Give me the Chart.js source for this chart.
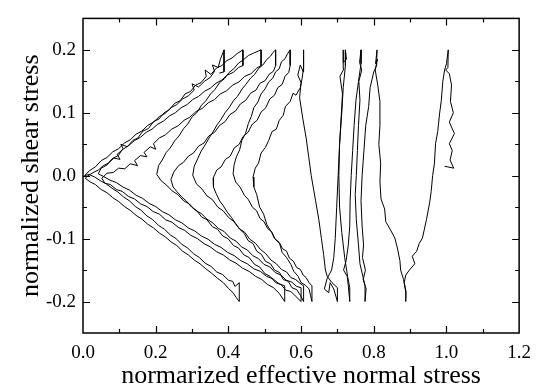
<!DOCTYPE html>
<html>
<head>
<meta charset="utf-8">
<script src="https://cdn.jsdelivr.net/npm/chart.js@4.4.1/dist/chart.umd.min.js"></script>
<style>
  html, body { margin: 0; padding: 0; background: #fff; }
  #wrap { width: 540px; height: 389px; }
</style>
</head>
<body>
<div id="wrap"><canvas id="myChart" width="540" height="389"></canvas></div>
<script>
// tick labels of the axes
const xTicks = [0, 0.2, 0.4, 0.6, 0.8, 1.0, 1.2];
const yTicks = [-0.2, -0.1, 0, 0.1, 0.2];

// stress path: [normalized effective normal stress, normalized shear stress]
const stressPath = [
  // first loading
  [0.995,0.015],[1.02,0.012],[1.01,0.025],[1.016,0.04],[1.008,0.051],[1.022,0.067],[1.008,0.085],[1.019,0.10],
  [1.011,0.118],[1.014,0.144],[1.008,0.162],[0.998,0.168],[1.004,0.172],[1.005,0.2],
  // cycle 1
  [1.0,0.178],[0.995,0.168],[0.99,0.15],[0.986,0.12],[0.981,0.098],[0.976,0.07],[0.97,0.051],[0.967,0.02],
  [0.962,0.0],[0.958,-0.025],[0.954,-0.042],[0.945,-0.07],[0.934,-0.099],[0.925,-0.108],[0.918,-0.12],
  [0.906,-0.128],[0.913,-0.14],[0.898,-0.15],[0.888,-0.158],[0.884,-0.17],[0.889,-0.185],[0.888,-0.2],
  [0.888,-0.185],[0.882,-0.165],[0.874,-0.15],[0.872,-0.135],[0.865,-0.115],[0.858,-0.099],[0.845,-0.085],
  [0.833,-0.073],[0.83,-0.053],[0.82,-0.037],[0.817,-0.01],[0.819,0.02],[0.814,0.05],[0.817,0.08],
  [0.817,0.118],[0.811,0.144],[0.804,0.168],[0.81,0.185],[0.805,0.178],[0.809,0.2],
  // cycle 2
  [0.808,0.175],[0.8,0.165],[0.79,0.14],[0.786,0.11],[0.778,0.08],[0.773,0.04],[0.768,0.0],[0.765,-0.04],
  [0.768,-0.08],[0.772,-0.11],[0.769,-0.13],[0.777,-0.15],[0.771,-0.165],[0.779,-0.18],[0.776,-0.2],
  [0.776,-0.175],[0.77,-0.16],[0.762,-0.14],[0.758,-0.11],[0.752,-0.07],[0.749,-0.03],[0.752,0.0],
  [0.755,0.04],[0.758,0.08],[0.762,0.12],[0.759,0.15],[0.767,0.168],[0.761,0.18],[0.765,0.2],
  // cycle 3
  [0.765,0.178],[0.758,0.15],[0.751,0.12],[0.746,0.08],[0.742,0.04],[0.738,0.0],[0.735,-0.04],[0.734,-0.08],
  [0.73,-0.11],[0.724,-0.135],[0.717,-0.15],[0.727,-0.16],[0.73,-0.175],[0.734,-0.2],
  [0.734,-0.178],[0.728,-0.16],[0.72,-0.13],[0.712,-0.09],[0.706,-0.05],[0.704,0.0],[0.706,0.05],
  [0.71,0.09],[0.714,0.13],[0.707,0.158],[0.718,0.17],[0.716,0.2],[0.716,0.18],[0.725,0.185],[0.722,0.2],
  // cycle 4
  [0.722,0.175],[0.716,0.14],[0.712,0.1],[0.706,0.05],[0.702,0.0],[0.698,-0.05],[0.694,-0.1],[0.69,-0.13],
  [0.684,-0.15],[0.672,-0.163],[0.664,-0.18],[0.676,-0.186],[0.68,-0.17],[0.69,-0.18],[0.7,-0.2],
  [0.7,-0.178],[0.685,-0.17],[0.672,-0.16],[0.667,-0.15],[0.662,-0.125],[0.656,-0.1],[0.649,-0.07],
  [0.64,-0.04],[0.628,0.0],[0.621,0.03],[0.614,0.06],[0.605,0.09],[0.596,0.124],[0.6,0.148],[0.591,0.16],
  [0.598,0.176],[0.606,0.165],[0.607,0.2],
  // cycle 5
  [0.607,0.172],[0.603,0.155],[0.598,0.14],[0.586,0.128],[0.578,0.131],[0.57,0.118],[0.557,0.11],[0.551,0.096],
  [0.54,0.088],[0.532,0.074],[0.52,0.07],[0.511,0.056],[0.502,0.045],[0.49,0.036],[0.483,0.02],[0.474,0.012],
  [0.468,-0.002],[0.47,-0.018],[0.478,-0.03],[0.486,-0.05],[0.497,-0.061],[0.506,-0.078],[0.519,-0.09],
  [0.527,-0.1],[0.541,-0.108],[0.548,-0.122],[0.56,-0.13],[0.572,-0.141],[0.58,-0.152],[0.592,-0.16],
  [0.6,-0.17],[0.612,-0.174],[0.622,-0.18],[0.626,-0.19],[0.63,-0.2],
  [0.63,-0.175],[0.622,-0.17],[0.614,-0.162],[0.606,-0.158],[0.598,-0.149],[0.588,-0.146],[0.579,-0.136],
  [0.568,-0.131],[0.56,-0.12],[0.549,-0.116],[0.54,-0.106],[0.528,-0.1],[0.519,-0.089],[0.508,-0.084],
  [0.498,-0.073],[0.487,-0.068],[0.478,-0.056],[0.466,-0.05],[0.455,-0.038],[0.444,-0.031],[0.432,-0.018],
  [0.42,-0.01],[0.413,0.003],[0.416,0.018],[0.422,0.03],[0.431,0.041],[0.437,0.056],[0.447,0.067],
  [0.455,0.083],[0.463,0.094],[0.47,0.108],[0.481,0.117],[0.49,0.13],[0.501,0.138],[0.511,0.149],
  [0.522,0.155],[0.53,0.165],[0.54,0.17],[0.546,0.181],[0.556,0.186],[0.562,0.193],[0.57,0.2],
  // cycle 6
  [0.57,0.175],[0.566,0.164],[0.556,0.158],[0.548,0.145],[0.536,0.14],[0.527,0.128],[0.514,0.122],
  [0.503,0.108],[0.49,0.101],[0.479,0.088],[0.466,0.082],[0.454,0.069],[0.44,0.062],[0.43,0.05],
  [0.416,0.044],[0.405,0.031],[0.392,0.026],[0.38,0.014],[0.368,0.009],[0.358,-0.004],[0.359,-0.018],
  [0.366,-0.028],[0.376,-0.04],[0.385,-0.047],[0.397,-0.058],[0.408,-0.066],[0.42,-0.076],[0.431,-0.085],
  [0.444,-0.092],[0.454,-0.103],[0.468,-0.108],[0.478,-0.12],[0.491,-0.125],[0.502,-0.136],[0.516,-0.14],
  [0.527,-0.15],[0.541,-0.154],[0.551,-0.165],[0.565,-0.168],[0.575,-0.178],[0.588,-0.181],[0.598,-0.19],
  [0.607,-0.2],
  [0.607,-0.175],[0.597,-0.171],[0.585,-0.165],[0.572,-0.162],[0.56,-0.153],[0.546,-0.149],[0.532,-0.14],
  [0.517,-0.134],[0.503,-0.124],[0.488,-0.117],[0.474,-0.107],[0.459,-0.101],[0.445,-0.09],[0.43,-0.084],
  [0.415,-0.073],[0.4,-0.066],[0.386,-0.056],[0.371,-0.05],[0.356,-0.038],[0.341,-0.032],[0.327,-0.021],
  [0.312,-0.013],[0.302,0.001],[0.306,0.015],[0.314,0.025],[0.325,0.039],[0.334,0.047],[0.347,0.06],
  [0.356,0.068],[0.369,0.081],[0.378,0.088],[0.392,0.101],[0.402,0.108],[0.415,0.12],[0.425,0.126],
  [0.438,0.138],[0.448,0.145],[0.461,0.155],[0.472,0.161],[0.484,0.171],[0.495,0.176],[0.506,0.185],
  [0.516,0.19],[0.523,0.196],[0.53,0.2],
  // cycle 7
  [0.53,0.175],[0.524,0.166],[0.512,0.161],[0.501,0.151],[0.487,0.147],[0.476,0.136],[0.461,0.131],
  [0.448,0.12],[0.433,0.114],[0.42,0.103],[0.404,0.097],[0.391,0.086],[0.376,0.08],[0.362,0.069],
  [0.346,0.063],[0.333,0.052],[0.318,0.047],[0.304,0.036],[0.29,0.031],[0.276,0.021],[0.263,0.016],
  [0.25,0.006],[0.242,-0.006],[0.248,-0.018],[0.258,-0.025],[0.272,-0.034],[0.284,-0.04],[0.299,-0.05],
  [0.312,-0.055],[0.327,-0.066],[0.341,-0.07],[0.356,-0.081],[0.37,-0.085],[0.385,-0.096],[0.399,-0.1],
  [0.414,-0.111],[0.428,-0.115],[0.443,-0.126],[0.457,-0.13],[0.472,-0.141],[0.486,-0.145],[0.501,-0.156],
  [0.515,-0.16],[0.53,-0.17],[0.545,-0.173],[0.558,-0.182],[0.572,-0.184],[0.584,-0.191],[0.6,-0.2],
  [0.6,-0.178],[0.588,-0.176],[0.574,-0.169],[0.559,-0.166],[0.545,-0.158],[0.529,-0.154],[0.514,-0.145],
  [0.498,-0.141],[0.483,-0.132],[0.467,-0.127],[0.452,-0.118],[0.436,-0.113],[0.421,-0.104],[0.405,-0.099],
  [0.389,-0.089],[0.373,-0.084],[0.357,-0.075],[0.341,-0.069],[0.325,-0.06],[0.309,-0.055],[0.293,-0.045],
  [0.277,-0.04],[0.261,-0.03],[0.245,-0.024],[0.23,-0.015],[0.215,-0.008],[0.203,0.002],[0.208,0.016],
  [0.218,0.025],[0.229,0.037],[0.24,0.044],[0.253,0.056],[0.264,0.063],[0.277,0.075],[0.288,0.082],
  [0.301,0.094],[0.313,0.1],[0.326,0.112],[0.338,0.119],[0.351,0.13],[0.363,0.137],[0.376,0.148],
  [0.389,0.154],[0.402,0.164],[0.415,0.17],[0.428,0.179],[0.441,0.184],[0.455,0.191],[0.47,0.195],
  [0.49,0.2],
  // cycle 8
  [0.49,0.175],[0.478,0.171],[0.462,0.162],[0.445,0.158],[0.429,0.149],[0.412,0.144],[0.395,0.135],
  [0.378,0.13],[0.362,0.121],[0.345,0.116],[0.328,0.107],[0.311,0.102],[0.294,0.093],[0.278,0.088],
  [0.261,0.079],[0.244,0.074],[0.227,0.065],[0.21,0.06],[0.194,0.051],[0.2,0.042],[0.185,0.046],
  [0.168,0.037],[0.176,0.03],[0.158,0.032],[0.142,0.024],[0.15,0.016],[0.13,0.019],[0.115,0.011],
  [0.098,0.012],[0.083,0.005],[0.066,0.004],[0.052,-0.004],[0.06,-0.012],[0.075,-0.014],[0.092,-0.022],
  [0.108,-0.025],[0.125,-0.033],[0.142,-0.037],[0.159,-0.045],[0.176,-0.049],[0.193,-0.057],[0.21,-0.061],
  [0.227,-0.07],[0.245,-0.074],[0.262,-0.082],[0.28,-0.087],[0.297,-0.095],[0.315,-0.1],[0.333,-0.108],
  [0.35,-0.113],[0.368,-0.121],[0.386,-0.126],[0.404,-0.134],[0.421,-0.139],[0.439,-0.147],[0.457,-0.152],
  [0.475,-0.16],[0.492,-0.165],[0.508,-0.173],[0.524,-0.178],[0.54,-0.187],[0.555,-0.2],
  [0.555,-0.175],[0.54,-0.172],[0.523,-0.164],[0.505,-0.16],[0.488,-0.152],[0.47,-0.148],[0.452,-0.14],
  [0.434,-0.135],[0.416,-0.127],[0.398,-0.122],[0.38,-0.114],[0.362,-0.109],[0.344,-0.101],[0.326,-0.096],
  [0.308,-0.088],[0.29,-0.083],[0.272,-0.075],[0.254,-0.07],[0.236,-0.062],[0.218,-0.057],[0.2,-0.049],
  [0.182,-0.044],[0.164,-0.036],[0.146,-0.031],[0.128,-0.023],[0.11,-0.018],[0.092,-0.011],[0.074,-0.007],
  [0.056,-0.001],[0.042,0.003],[0.05,0.012],[0.066,0.017],[0.08,0.027],[0.097,0.032],[0.11,0.043],
  [0.104,0.05],[0.122,0.046],[0.137,0.056],[0.151,0.06],[0.165,0.071],[0.18,0.075],[0.194,0.086],
  [0.209,0.09],[0.223,0.1],[0.238,0.105],[0.252,0.115],[0.267,0.119],[0.281,0.13],[0.296,0.134],
  [0.31,0.144],[0.325,0.148],[0.339,0.158],[0.336,0.168],[0.352,0.161],[0.367,0.171],[0.382,0.175],
  [0.396,0.183],[0.41,0.187],[0.424,0.194],[0.44,0.2],
  // cycle 9
  [0.44,0.175],[0.428,0.172],[0.413,0.164],[0.397,0.16],[0.382,0.152],[0.366,0.147],[0.35,0.139],
  [0.334,0.134],[0.318,0.126],[0.302,0.121],[0.286,0.113],[0.27,0.108],[0.254,0.1],[0.238,0.095],
  [0.222,0.087],[0.206,0.082],[0.19,0.074],[0.174,0.069],[0.158,0.061],[0.142,0.056],[0.126,0.048],
  [0.11,0.042],[0.094,0.034],[0.102,0.026],[0.085,0.028],[0.07,0.02],[0.056,0.016],[0.042,0.009],
  [0.028,0.005],[0.014,0.0],[0.006,-0.004],[0.02,-0.01],[0.034,-0.014],[0.05,-0.022],[0.066,-0.027],
  [0.082,-0.035],[0.098,-0.041],[0.114,-0.049],[0.13,-0.055],[0.146,-0.063],[0.162,-0.069],[0.178,-0.077],
  [0.194,-0.083],[0.21,-0.091],[0.226,-0.097],[0.242,-0.105],[0.258,-0.111],[0.274,-0.12],[0.29,-0.126],
  [0.306,-0.134],[0.322,-0.14],[0.338,-0.148],[0.354,-0.155],[0.37,-0.163],[0.386,-0.17],[0.4,-0.179],
  [0.413,-0.186],[0.422,-0.194],[0.43,-0.2],
  [0.43,-0.17],[0.418,-0.176],[0.412,-0.168],[0.4,-0.166],[0.384,-0.157],[0.368,-0.153],[0.352,-0.144],
  [0.336,-0.139],[0.32,-0.13],[0.304,-0.124],[0.288,-0.115],[0.272,-0.109],[0.256,-0.1],[0.24,-0.094],
  [0.224,-0.085],[0.208,-0.079],[0.192,-0.07],[0.176,-0.064],[0.16,-0.055],[0.144,-0.049],[0.128,-0.04],
  [0.112,-0.034],[0.096,-0.026],[0.08,-0.02],[0.064,-0.013],[0.048,-0.008],[0.032,-0.002],[0.016,0.002],
  [0.004,0.0],[0.018,0.008],[0.034,0.014],[0.05,0.024],[0.066,0.029],[0.082,0.038],[0.098,0.043],
  [0.114,0.052],[0.13,0.057],[0.146,0.066],[0.162,0.071],[0.178,0.08],[0.194,0.085],[0.21,0.094],
  [0.226,0.099],[0.242,0.108],[0.258,0.113],[0.274,0.122],[0.29,0.127],[0.306,0.136],[0.3,0.146],
  [0.318,0.141],[0.334,0.15],[0.35,0.156],[0.362,0.166],[0.356,0.176],[0.372,0.172],[0.378,0.185],
  [0.388,0.2],[0.388,0.165],[0.375,0.163]
];

// frame with inward ticks on all four sides
const frameTicks = {
  id: 'frameTicks',
  afterDraw(chart) {
    const { ctx, chartArea: a, scales: { x, y } } = chart;
    ctx.save();
    ctx.strokeStyle = '#000';
    ctx.lineWidth = 1.5;
    ctx.strokeRect(a.left, a.top, a.right - a.left, a.bottom - a.top);
    ctx.lineWidth = 1.2;
    ctx.beginPath();
    for (let i = 1; i < 12; i++) {
      const px = Math.round(x.getPixelForValue(i / 10)) + 0.5;
      const len = i % 2 === 0 ? 7 : 4;
      ctx.moveTo(px, a.bottom); ctx.lineTo(px, a.bottom - len);
      ctx.moveTo(px, a.top); ctx.lineTo(px, a.top + len);
    }
    for (let i = -4; i <= 4; i++) {
      const py = Math.round(y.getPixelForValue(i * 0.05)) + 0.5;
      const len = i % 2 === 0 ? 7 : 4;
      ctx.moveTo(a.left, py); ctx.lineTo(a.left + len, py);
      ctx.moveTo(a.right, py); ctx.lineTo(a.right - len, py);
    }
    ctx.stroke();
    ctx.restore();
  }
};

const serif = 'Liberation Serif';

new Chart(document.getElementById('myChart'), {
  type: 'scatter',
  data: {
    datasets: [{
      data: stressPath.map(([p, q]) => ({ x: p, y: q })),
      showLine: true,
      borderColor: '#000',
      borderWidth: 1,
      pointRadius: 0,
      tension: 0
    }]
  },
  options: {
    responsive: false,
    animation: false,
    layout: { padding: { top: 12, right: 18, left: 0, bottom: 0 } },
    plugins: { legend: { display: false }, tooltip: { enabled: false } },
    scales: {
      x: {
        type: 'linear', min: 0, max: 1.2,
        afterBuildTicks: s => { s.ticks = xTicks.map(v => ({ value: v })); },
        afterFit: s => { s.height = 56; },
        grid: { display: false, drawTicks: false },
        border: { display: false },
        ticks: { callback: v => v.toFixed(1), color: '#000', padding: 9, maxRotation: 0,
                 font: { family: serif, size: 19 } },
        title: { display: true, text: 'normarized effective normal stress', color: '#000',
                 padding: 0, font: { family: serif, size: 26, lineHeight: 1.0 } }
      },
      y: {
        type: 'linear', min: -0.25, max: 0.25,
        afterBuildTicks: s => { s.ticks = yTicks.map(v => ({ value: v })); },
        afterFit: s => { s.width = 83; },
        grid: { display: false, drawTicks: false },
        border: { display: false },
        ticks: { callback: v => v.toFixed(1), color: '#000', padding: 7,
                 font: { family: serif, size: 19 } },
        title: { display: true, text: 'normalized shear stress', color: '#000',
                 padding: { top: 18 }, font: { family: serif, size: 26, lineHeight: 1.0 } }
      }
    }
  },
  plugins: [frameTicks]
});
</script>
</body>
</html>
